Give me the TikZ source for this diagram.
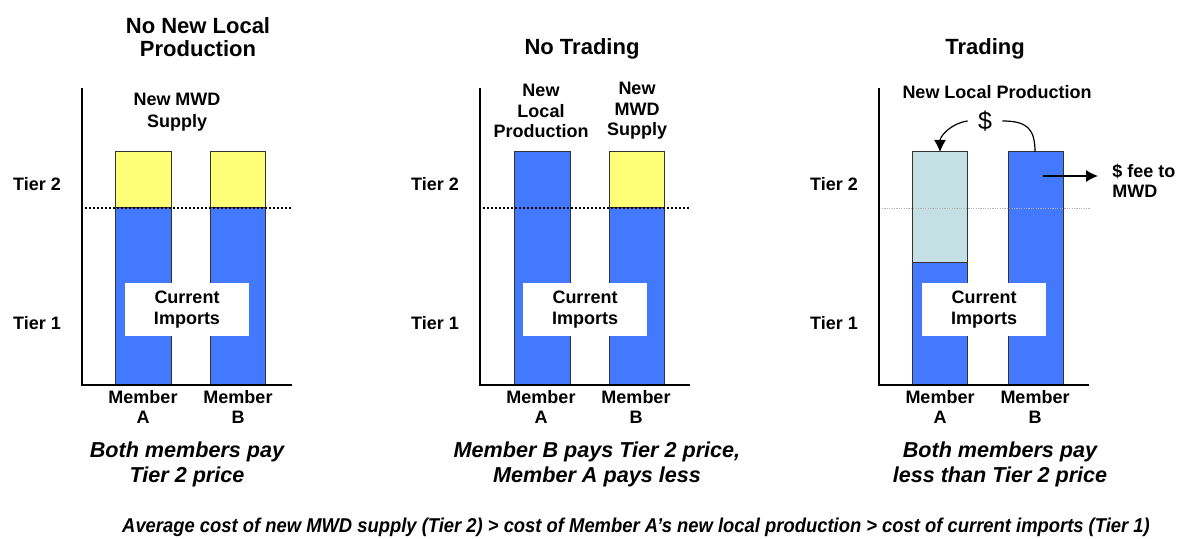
\documentclass[tikz,border=0pt]{standalone}
\usepackage{fontspec}
\setmainfont{Liberation Sans}
\usetikzlibrary{arrows.meta}
\definecolor{barblue}{RGB}{66,121,255}
\definecolor{baryellow}{RGB}{255,255,119}
\definecolor{barcyan}{RGB}{197,224,228}

\begin{document}
\begin{tikzpicture}[x=0.5pt,y=-0.5pt,
        lbl/.style={font=\fontsize{9}{10.2}\selectfont\bfseries, align=center, inner sep=0pt},
        ttl/.style={font=\fontsize{11}{11.5}\selectfont\bfseries, align=center, inner sep=0pt},
        caption/.style={font=\fontsize{10.8}{12.2}\selectfont\bfseries\itshape, align=center, inner sep=0pt},
        bar/.style={draw=black!80, line width=0.5pt},
        axis/.style={line width=1pt},
        tierline/.style={line width=0.7pt, dash pattern=on 1pt off 1pt},
        imports/.style={lbl, fill=white, minimum width=62pt, minimum height=26.5pt},
        tip/.style={-{Latex[length=6pt,width=6pt]}, line width=0.6pt}]
    \useasboundingbox (0,0) rectangle (1178,539);
    % bars
    \fill[barblue, bar] (115,208) rectangle (171,385);
    \fill[baryellow, bar] (115,152) rectangle (171,208);
    \fill[barblue, bar] (210,208) rectangle (265,385);
    \fill[baryellow, bar] (210,152) rectangle (265,208);
    \fill[barblue, bar] (514,152) rectangle (570,385);
    \fill[barblue, bar] (609,208) rectangle (664,385);
    \fill[baryellow, bar] (609,152) rectangle (664,208);
    \fill[barcyan, bar] (912,152) rectangle (967,263);
    \fill[barblue, bar] (912,263) rectangle (967,385);
    \fill[barblue, bar] (1008,152) rectangle (1063,385);
    \draw[tierline] (85,208) -- (292,208);
    \draw[tierline] (483,208) -- (690,208);
    \draw[gray!60, line width=0.4pt, dash pattern=on 0.6pt off 0.6pt] (882,208) -- (1090,208);
    \foreach \x/\n in {0/1,398/2,797/3}{
        \draw[axis] (82+\x,88) -- (82+\x,385) -- (292+\x,385);
        \node[lbl] (tiertwo\n) at (37+\x,184) {Tier 2};
        \node[lbl] (tierone\n) at (37+\x,323) {Tier 1};
        \node[lbl] (memberA\n) at (143+\x,407) {Member\\A};
        \node[lbl] (memberB\n) at (238+\x,407) {Member\\B};
        \node[imports] (imports\n) at (187+\x,309.5) {Current\\Imports};
    }
    \node[ttl] (title1) at (198,37) {No New Local\\Production};
    \node[ttl] (title2) at (582,49) {No Trading};
    \node[ttl] (title3) at (985,49) {Trading};
    \node[lbl, font=\fontsize{9}{10.8}\selectfont\bfseries] (supply1) at (177,112) {New MWD\\Supply};
    \node[lbl] (local2) at (541,111) {New\\Local\\Production};
    \node[lbl] (supply2) at (637,111) {New\\MWD\\Supply};
    \node[lbl] (local3) at (997,92) {New Local Production};
    % money flow
    \node[font=\fontsize{12.5}{12.5}\selectfont, inner sep=5pt] (dollar) at (985,121) {\$};
    \coordinate (topA) at (940,152);
    \coordinate (topB) at (1035,152);
    \coordinate (feestart) at (1043,176);
    \node[lbl, align=left, anchor=west] (fee) at (1112,181) {\$ fee to\\MWD};
    \draw[tip] (dollar.west) .. controls +(-16,2) and +(0,-16) .. (topA);
    \draw[line width=0.6pt] (dollar.east) .. controls +(24,0) and +(0,-24) .. (topB);
    \draw[tip, shorten >=7pt] (feestart) -- (feestart -| fee.west);
    \node[caption] (caption1) at (187,464.5) {Both members pay\\Tier 2 price};
    \node[caption] (caption2) at (597,464.5) {Member B pays Tier 2 price,\\Member A pays less};
    \node[caption] (caption3) at (1000,464.5) {Both members pay\\less than Tier 2 price};
    \node[font=\fontsize{10}{11}\selectfont\bfseries\itshape, inner sep=0pt] (summary) at (636,527)
        {\scalebox{0.92}[1]{Average cost of new MWD supply (Tier 2) > cost of Member A’s new local production > cost of current imports (Tier 1)}};
\end{tikzpicture}
\end{document}
